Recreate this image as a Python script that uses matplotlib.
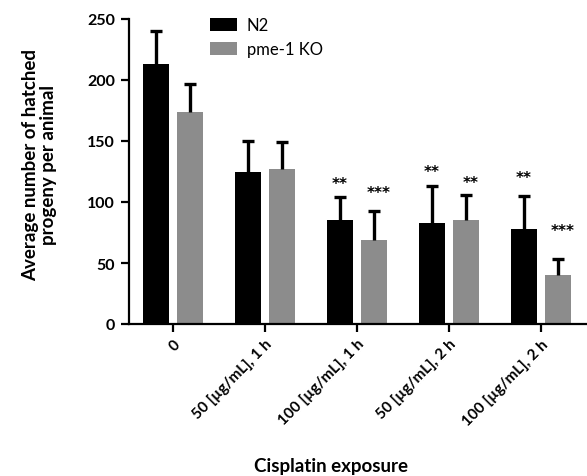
import matplotlib
matplotlib.use("Agg")
import matplotlib.pyplot as plt
import numpy as np

categories = ["0", "50 [µg/mL], 1 h", "100 [µg/mL], 1 h", "50 [µg/mL], 2 h", "100 [µg/mL], 2 h"]
n2_mean = [213, 125, 85, 83, 78]
n2_sd = [27, 25, 19, 30, 27]
ko_mean = [174, 127, 69, 85, 40]
ko_sd = [23, 22, 24, 21, 13]
n2_sig = ["", "", "**", "**", "**"]
ko_sig = ["", "", "***", "**", "***"]

plt.rcParams['font.family'] = 'Lato'

fig = plt.figure(figsize=(5.87, 4.77), dpi=100)
ax = fig.add_axes([129/587, 152/477, 458/587, 305/477])

x = np.arange(len(categories))
w = 0.28
off = 0.185
gray = "#8c8c8c"
ax.bar(x - off, n2_mean, w, color="black", label="N2", zorder=2)
ax.bar(x + off, ko_mean, w, color=gray, label="pme-1 KO", zorder=2)
for xs, m, s in ((x - off, n2_mean, n2_sd), (x + off, ko_mean, ko_sd)):
    eb = ax.errorbar(xs, m, yerr=[np.zeros(len(m)), s], fmt="none", ecolor="black",
                     elinewidth=2.4, capsize=4, capthick=2.4, zorder=3)
    eb[1][0].set_visible(False)

star_pad_n2 = [0, 0, 11, 12, 15]
star_pad_ko = [0, 0, 15, 10, 24]
for i in range(len(categories)):
    if n2_sig[i]:
        ax.text(x[i] - off, n2_mean[i] + n2_sd[i] + star_pad_n2[i], n2_sig[i],
                ha="center", va="center", fontsize=11, fontweight="bold",
                family="DejaVu Sans")
    if ko_sig[i]:
        ax.text(x[i] + off + 0.05, ko_mean[i] + ko_sd[i] + star_pad_ko[i], ko_sig[i],
                ha="center", va="center", fontsize=11, fontweight="bold",
                family="DejaVu Sans")

ax.set_ylim(0, 250)
ax.set_xlim(-0.48, 4.5)
ax.set_yticks([0, 50, 100, 150, 200, 250])
ax.set_xticks(x)
ax.set_xticklabels(categories, rotation=45, ha="right", rotation_mode="anchor",
                   fontsize=11, fontweight="bold")
ax.set_yticklabels(["0", "50", "100", "150", "200", "250"], fontsize=11.5, fontweight="bold")
ax.spines["top"].set_visible(False)
ax.spines["right"].set_visible(False)
ax.spines["left"].set_linewidth(1.6)
ax.spines["bottom"].set_linewidth(1.6)
ax.tick_params(axis="both", width=1.6, length=6)
ax.tick_params(axis="x", pad=3)
ax.tick_params(axis="y", pad=4)

ax.set_ylabel("Average number of hatched\nprogeny per animal", fontsize=13.5,
              fontweight="bold", linespacing=1.05)
ax.yaxis.set_label_coords(-0.157, 0.525)
ax.set_xlabel("Cisplatin exposure", fontsize=13.5, fontweight="bold")
ax.xaxis.set_label_coords(0.441, -0.435)

leg = ax.legend(loc="upper left", bbox_to_anchor=(0.177, 1.005), frameon=False,
                fontsize=12, handlelength=1.6, handleheight=0.85, labelspacing=0.45,
                handletextpad=0.6, borderpad=0, borderaxespad=0)

fig.savefig("out.png", dpi=100)
